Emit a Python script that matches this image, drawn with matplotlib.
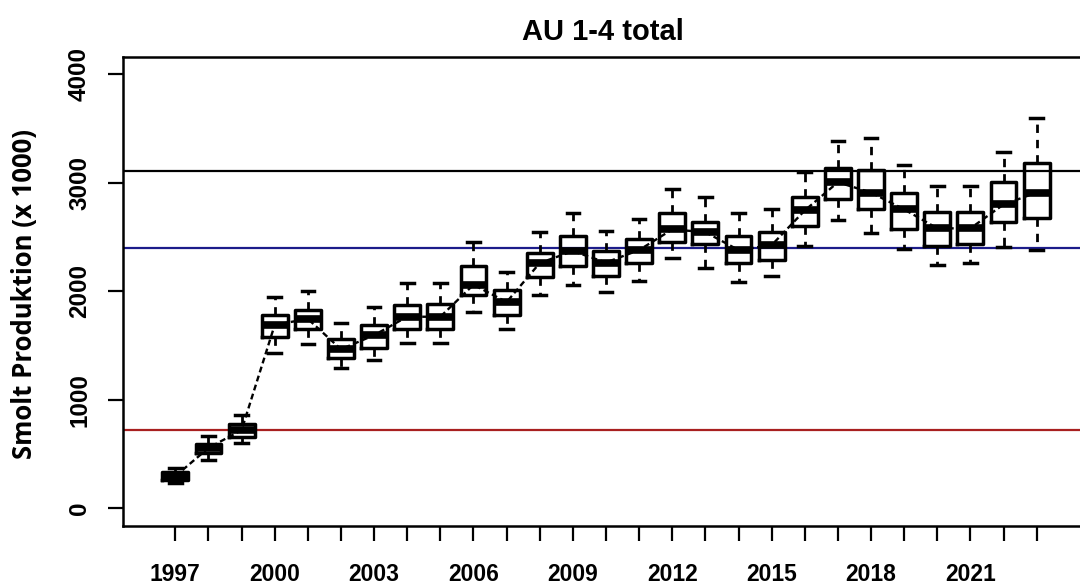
import matplotlib
matplotlib.use("Agg")
import matplotlib.pyplot as plt
import numpy as np

# Smolt production estimates per year (x 1000): box-plot summary statistics
years = list(range(1997, 2024))
whis_lo = [235, 440, 600, 1430, 1510, 1290, 1365, 1520, 1520, 1805, 1650, 1970,
           2055, 1990, 2090, 2305, 2210, 2085, 2145, 2415, 2655, 2535, 2390, 2240,
           2260, 2405, 2380]
q1 = [255, 505, 655, 1575, 1650, 1380, 1475, 1650, 1650, 1970, 1780, 2130,
      2230, 2140, 2260, 2450, 2440, 2260, 2285, 2600, 2850, 2755, 2570, 2415,
      2435, 2635, 2680]
median = [295, 555, 720, 1690, 1745, 1465, 1595, 1765, 1765, 2060, 1900, 2260,
          2370, 2265, 2380, 2570, 2545, 2380, 2425, 2745, 3005, 2910, 2755, 2580,
          2580, 2800, 2910]
q3 = [330, 590, 775, 1780, 1825, 1560, 1685, 1870, 1885, 2230, 2010, 2350,
      2505, 2370, 2480, 2720, 2635, 2505, 2545, 2865, 3135, 3115, 2910, 2730,
      2730, 3005, 3180]
whis_hi = [370, 665, 860, 1945, 2000, 1705, 1855, 2075, 2075, 2450, 2175, 2545,
           2720, 2555, 2665, 2940, 2865, 2720, 2755, 3095, 3390, 3410, 3160, 2975,
           2970, 3280, 3595]

# Reference levels
ref_upper = 3110
ref_mid = 2395
ref_lower = 725

title = "AU 1-4 total"
ylabel = "Smolt Produktion (x 1000)"
yticks = [0, 1000, 2000, 3000, 4000]
label_every = 3

W, H = 1080, 586
fig = plt.figure(figsize=(W / 100, H / 100), dpi=100)
left, right, top, bottom = 123, 1089, 57, 525.5
ax = fig.add_axes([left / W, 1 - bottom / H, (right - left) / W, (bottom - top) / H])

positions = np.arange(1, len(years) + 1)
stats = [dict(whislo=a, q1=b, med=c, q3=d, whishi=e, fliers=[])
         for a, b, c, d, e in zip(whis_lo, q1, median, q3, whis_hi)]

ax.bxp(stats, positions=positions, widths=0.78, capwidths=0.38,
       showfliers=False, patch_artist=False,
       boxprops=dict(color="black", linewidth=2.5),
       medianprops=dict(color="black", linewidth=5.5, solid_capstyle="butt"),
       whiskerprops=dict(color="black", linewidth=2.0, linestyle=(0, (3, 2.5))),
       capprops=dict(color="black", linewidth=2.5))

# median trend
ax.plot(positions, median, color="black", linewidth=1.7,
        linestyle=(0, (2.5, 1.5)), zorder=4)

ax.axhline(ref_upper, color="black", linewidth=1.6, zorder=1)
ax.axhline(ref_mid, color="#1c1c8a", linewidth=1.6, zorder=1)
ax.axhline(ref_lower, color="#a82020", linewidth=1.6, zorder=1)

ax.set_xlim(-0.58, len(years) + 1.58)
ax.set_ylim(-160, 4160)

ax.set_xticks(positions)
ax.set_xticklabels([str(y) if (y - years[0]) % label_every == 0 else ""
                    for y in years])
ax.set_yticks(yticks)
ax.set_yticklabels([str(v) for v in yticks], rotation=90, va="center")

for s in ax.spines.values():
    s.set_linewidth(1.8)

ax.tick_params(axis="both", direction="out", length=11, width=1.6, color="black")
ax.tick_params(axis="x", pad=16)
ax.tick_params(axis="y", pad=12)
for lab in ax.get_xticklabels():
    lab.set_fontfamily("Liberation Sans")
    lab.set_fontweight("bold")
    lab.set_fontsize(16.5)
for lab in ax.get_yticklabels():
    lab.set_fontfamily("Liberation Sans")
    lab.set_fontweight("bold")
    lab.set_fontsize(17.5)

fig.text(603 / W, 1 - 32 / H, title, ha="center", va="center",
         fontfamily="Liberation Sans", fontweight="bold", fontsize=21)
fig.text(25 / W, 1 - 294 / H, ylabel, ha="center", va="center", rotation=90,
         fontfamily="Open Sans", fontweight="bold", fontsize=18.5)

fig.savefig("out.png", dpi=100)
